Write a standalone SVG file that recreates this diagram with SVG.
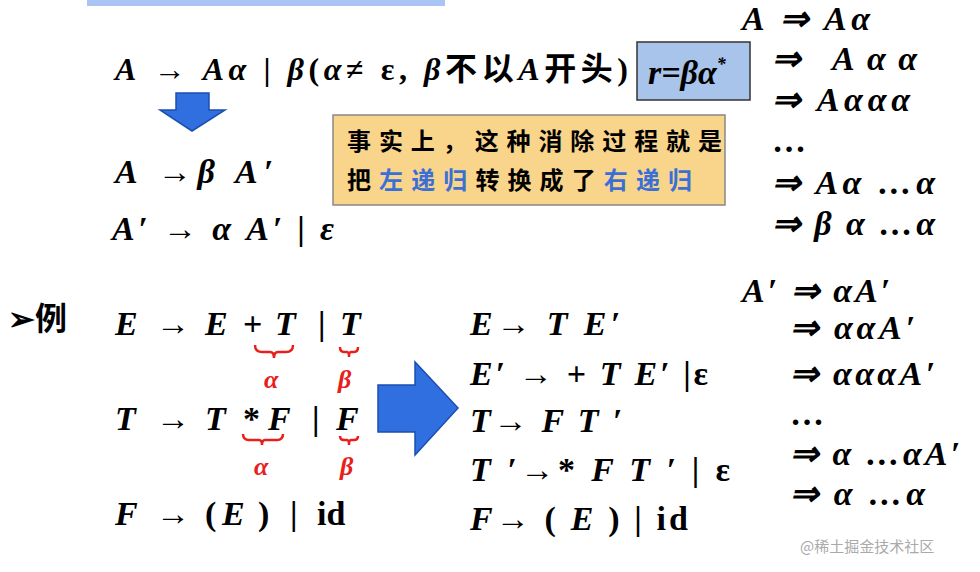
<svg xmlns="http://www.w3.org/2000/svg" width="980" height="572" viewBox="0 0 980 572">
<style>
.m{font-family:"Liberation Serif",serif;font-weight:bold;font-size:34px;fill:#000}
.i{font-style:italic}
.c{font-family:"Liberation Serif","Noto Sans CJK SC",serif;font-weight:bold;font-size:32px}
.r{fill:#e8201c;font-family:"Liberation Serif",serif;font-weight:bold;font-style:italic;font-size:26px}
.y{font-family:"Noto Sans CJK SC",sans-serif;font-weight:bold;font-size:24px;fill:#000}
.br{fill:none;stroke:#e8201c;stroke-width:2.5}
</style>
<rect width="980" height="572" fill="#fff"/>
<rect x="87" y="0" width="358" height="6" fill="#a9c4f5"/>
<g id="top-grammar">
<text class="c" x="115" y="80" textLength="513" lengthAdjust="spacing"><tspan class="i">A</tspan> → <tspan class="i">Aα</tspan> | <tspan class="i">β</tspan>(<tspan class="i">α</tspan>≠ ε, <tspan class="i">β</tspan>不以<tspan class="i">A</tspan>开头)</text>
<text class="m" x="115" y="183" textLength="158" lengthAdjust="spacing"><tspan class="i">A</tspan> →<tspan class="i">β A′</tspan></text>
<text class="m" x="112" y="240" textLength="222" lengthAdjust="spacing"><tspan class="i">A′</tspan> → <tspan class="i">α A′</tspan> | <tspan class="i">ε</tspan></text>
</g>
<g id="rbox"><rect x="637" y="42" width="113" height="58" fill="#a9c4eb" stroke="#333" stroke-width="1.5"/>
<text class="m i" x="648" y="84">r=βα<tspan font-size="18" dy="-14">*</tspan></text></g>
<g id="down-arrow"><path d="M176 93H209V110H225L192 131L160 110H176Z" fill="#2f6fe0" stroke="#1d4fb0" stroke-width="1.5"/></g>
<g id="note"><rect x="333" y="115" width="392" height="90" fill="#f9d48b" stroke="#888" stroke-width="1.5"/>
<text class="y" x="347" y="150" textLength="375" lengthAdjust="spacing">事实上，这种消除过程就是</text>
<text class="y" x="347" y="189" textLength="345" lengthAdjust="spacing">把<tspan fill="#3b6fd8">左递归</tspan>转换成了<tspan fill="#3b6fd8">右递归</tspan></text></g>
<g id="deriv1">
<text class="m i" x="742" y="30" textLength="128" lengthAdjust="spacing">A ⇒ Aα</text>
<text class="m i" x="772" y="70" textLength="145" lengthAdjust="spacing">⇒ Aαα</text>
<text class="m i" x="772" y="111" textLength="138" lengthAdjust="spacing">⇒ Aααα</text>
<text class="m" x="772" y="152">…</text>
<text class="m i" x="772" y="194" textLength="163" lengthAdjust="spacing">⇒ Aα …α</text>
<text class="m i" x="772" y="235" textLength="163" lengthAdjust="spacing">⇒ β α …α</text>
</g>
<g id="example">
<text class="c" x="8" y="330">➢例</text>
<g class="m i"><text x="115" y="335">E</text><text x="156" y="335" font-style="normal">→</text><text x="205" y="335">E</text><text x="243" y="335" font-style="normal">+</text><text x="275" y="335">T</text><text x="318" y="335" font-style="normal">|</text><text x="340" y="335">T</text></g>
<g class="m i"><text x="115" y="430">T</text><text x="156" y="430" font-style="normal">→</text><text x="205" y="430">T</text><text x="243" y="430" font-style="normal">*</text><text x="268" y="430">F</text><text x="312" y="430" font-style="normal">|</text><text x="336" y="430">F</text></g>
<g class="m"><text x="115" y="525" font-style="italic">F</text><text x="156" y="525">→</text><text x="205" y="525">(</text><text x="222" y="525" font-style="italic">E</text><text x="258" y="525">)</text><text x="290" y="525">|</text><text x="317" y="525">id</text></g>
<path class="br" d="M255 345q0 7 7 7h8q4 0 4 6q0-6 4-6h8q7 0 7-7"/>
<path class="br" d="M340 347q0 5 4 5h3q2 0 2 5q0-5 2-5h3q4 0 4-5"/>
<text class="r" x="264" y="388">α</text><text class="r" x="338" y="388">β</text>
<path class="br" d="M243 434q0 6 6 6h10q3 0 3 5q0-5 3-5h12q6 0 6-6"/>
<path class="br" d="M340 436q0 4 4 4h3q2 0 2 5q0-5 2-5h3q4 0 4-4"/>
<text class="r" x="254" y="475">α</text><text class="r" x="340" y="475">β</text>
</g>
<g id="right-arrow"><path d="M378 385H415V362L458 408L415 455V432H378Z" fill="#2f6fe0" stroke="#1d4fb0" stroke-width="1.5"/></g>
<g id="result" class="m">
<text x="470" y="335" textLength="150" lengthAdjust="spacing"><tspan class="i">E</tspan>→ <tspan class="i">T E′</tspan></text>
<text x="470" y="385" textLength="238" lengthAdjust="spacing"><tspan class="i">E′</tspan> → + <tspan class="i">T E′</tspan> |ε</text>
<text x="470" y="432" textLength="152" lengthAdjust="spacing"><tspan class="i">T</tspan>→ <tspan class="i">F T ′</tspan></text>
<text x="470" y="481" textLength="260" lengthAdjust="spacing"><tspan class="i">T ′</tspan>→* <tspan class="i">F T ′</tspan> | ε</text>
<text x="470" y="530" textLength="218" lengthAdjust="spacing"><tspan class="i">F</tspan>→ ( <tspan class="i">E</tspan> ) | id</text>
</g>
<g id="deriv2">
<text class="m i" x="742" y="302" textLength="148" lengthAdjust="spacing">A′ ⇒ αA′</text>
<text class="m i" x="790" y="339" textLength="125" lengthAdjust="spacing">⇒ ααA′</text>
<text class="m i" x="790" y="385" textLength="145" lengthAdjust="spacing">⇒ αααA′</text>
<text class="m" x="790" y="425">…</text>
<text class="m i" x="790" y="465" textLength="170" lengthAdjust="spacing">⇒ α …αA′</text>
<text class="m i" x="790" y="505" textLength="135" lengthAdjust="spacing">⇒ α …α</text>
</g>
<text x="800" y="552" font-family="Noto Sans CJK SC,sans-serif" font-size="15" fill="#aaa">@稀土掘金技术社区</text>
</svg>
